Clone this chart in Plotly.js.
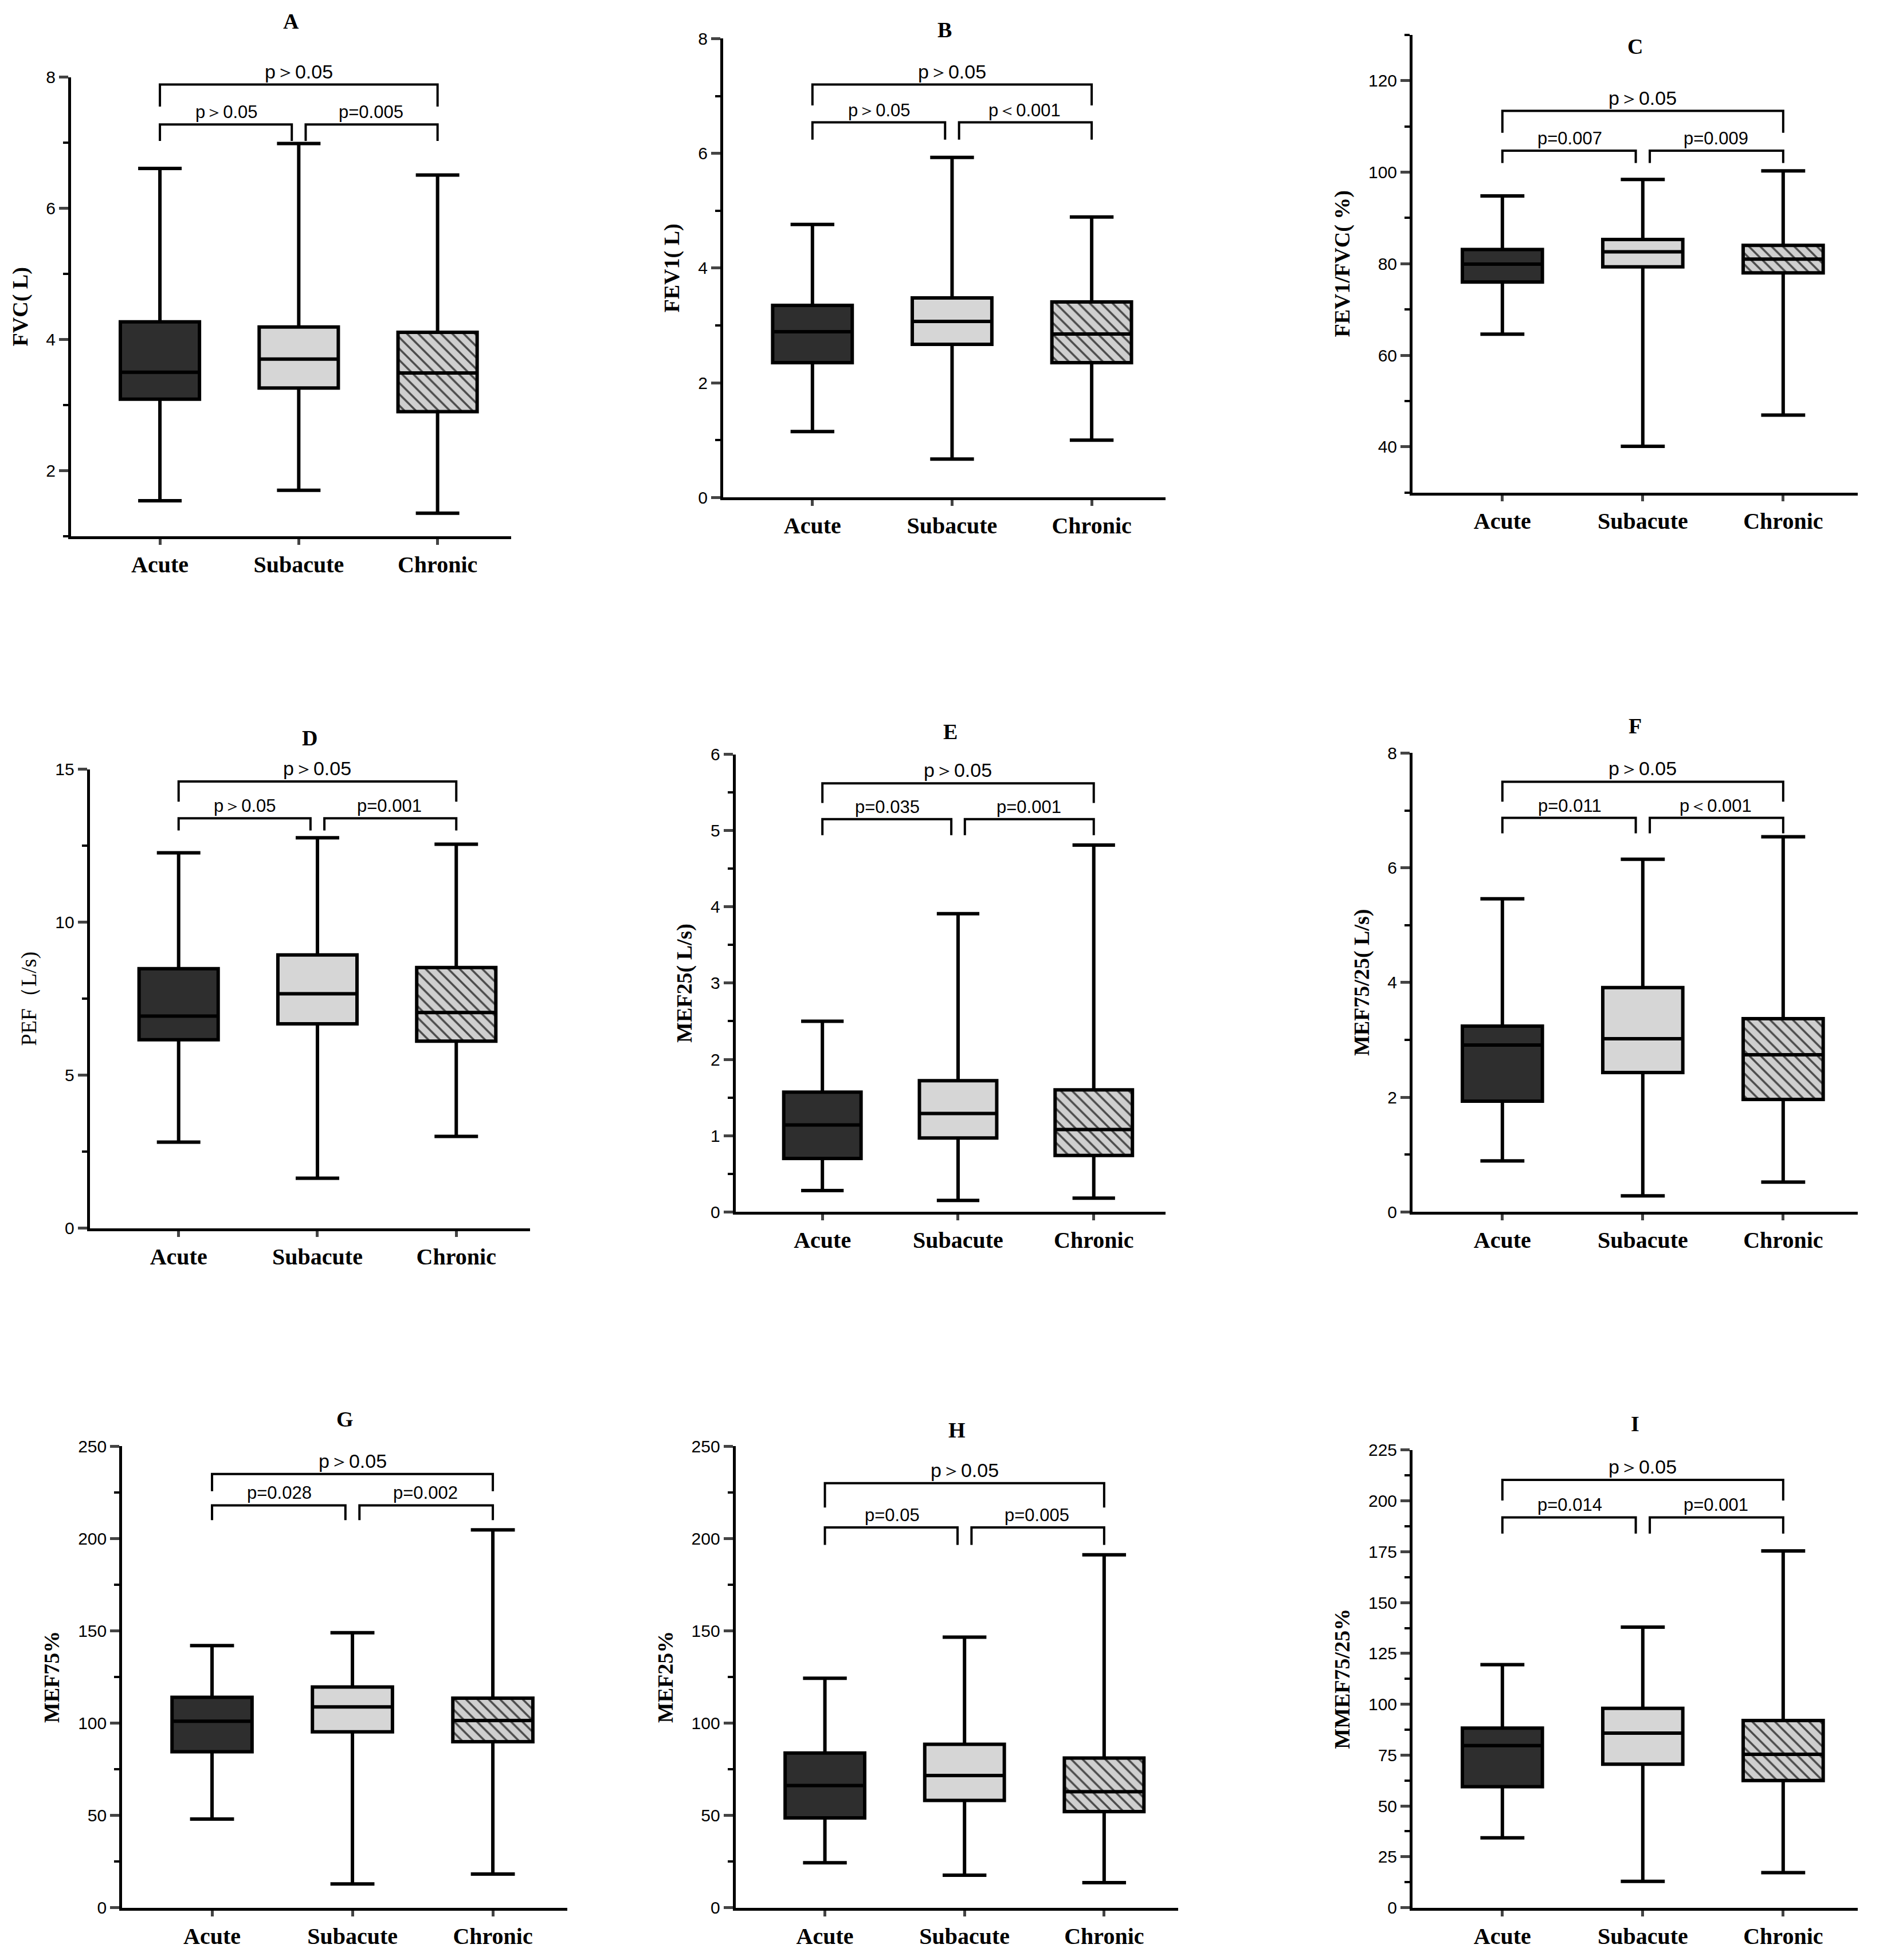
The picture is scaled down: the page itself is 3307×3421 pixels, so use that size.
<!DOCTYPE html>
<html>
<head>
<meta charset="utf-8">
<script src="https://cdn.plot.ly/plotly-3.0.1.min.js"></script>
<style>body{margin:0;background:#fff}</style>
</head>
<body>
<div id="chart" style="width:3307px;height:3421px"></div>
<script>
// groups
var groups = ['Acute', 'Subacute', 'Chronic'];
// each row: [min, q1, median, q3, max]
var fvc      = [[1.54, 3.09, 3.50, 4.27, 6.61], [1.70, 3.26, 3.70, 4.19, 6.99], [1.35, 2.90, 3.49, 4.11, 6.51]];
var fev1     = [[1.15, 2.35, 2.89, 3.35, 4.76], [0.67, 2.67, 3.07, 3.48, 5.93], [1.00, 2.35, 2.85, 3.41, 4.89]];
var ratio    = [[64.6, 76.0, 79.9, 83.1, 94.8], [40.1, 79.3, 82.6, 85.3, 98.4], [46.9, 78.0, 81.0, 84.0, 100.3]];
var pef      = [[2.81, 6.16, 6.93, 8.48, 12.27], [1.63, 6.68, 7.66, 8.93, 12.76], [3.00, 6.11, 7.05, 8.52, 12.55]];
var mef25    = [[0.28, 0.70, 1.14, 1.57, 2.50], [0.15, 0.97, 1.29, 1.72, 3.91], [0.18, 0.74, 1.08, 1.60, 4.81]];
var mef7525  = [[0.89, 1.93, 2.91, 3.24, 5.46], [0.28, 2.43, 3.02, 3.91, 6.15], [0.52, 1.96, 2.74, 3.37, 6.54]];
var mef75p   = [[48, 84.5, 101, 114, 142], [12.8, 95.3, 108.8, 119.6, 149], [18.2, 89.9, 101.4, 113.5, 204.7]];
var mef25p   = [[24.3, 48.6, 66.2, 83.8, 124.3], [17.6, 58.1, 71.6, 88.5, 146.6], [13.5, 52.0, 62.8, 81.1, 191.2]];
var mmef     = [[34.3, 59.5, 79.7, 88.3, 119.5], [12.9, 70.5, 85.8, 98.0, 137.9], [17.2, 62.5, 75.4, 92.0, 175.4]];
// p labels: [top (Acute-Chronic), left (Acute-Subacute), right (Subacute-Chronic)]
var pA = ['p＞0.05', 'p＞0.05', 'p=0.005'];
var pB = ['p＞0.05', 'p＞0.05', 'p＜0.001'];
var pC = ['p＞0.05', 'p=0.007', 'p=0.009'];
var pD = ['p＞0.05', 'p＞0.05', 'p=0.001'];
var pE = ['p＞0.05', 'p=0.035', 'p=0.001'];
var pF = ['p＞0.05', 'p=0.011', 'p＜0.001'];
var pG = ['p＞0.05', 'p=0.028', 'p=0.002'];
var pH = ['p＞0.05', 'p=0.05', 'p=0.005'];
var pI = ['p＞0.05', 'p=0.014', 'p=0.001'];
// bracket heights: [top bar, lower bar, lower bar ends]
var bA = [7.89, 7.28, 7.03], bB = [7.2, 6.54, 6.24], bC = [113.4, 104.7, 102];
var bD = [14.6, 13.4, 13.0], bE = [5.62, 5.15, 4.94], bF = [7.5, 6.87, 6.6];
var bG = [235, 218, 210], bH = [230, 206, 196.6], bI = [210.3, 191.9, 183.9];

var W = 1520, H = 1572; // reference layout units
var panels = [
  {t:'A', d:fvc,     p:pA, b:bA, yt:'FVC( L)',       r:[1,8],     dt:2,  box:[57,410,62,430],  ty:17},
  {t:'B', d:fev1,    p:pB, b:bB, yt:'FEV1( L)',      r:[0,8],     dt:2,  box:[580,935,31,399], ty:24},
  {t:'C', d:ratio,   p:pC, b:bC, yt:'FEV1/FVC( %)',  r:[30,130],  dt:20, box:[1133,1490,28,395], ty:37},
  {t:'D', d:pef,     p:pD, b:bD, yt:'PEF（L/s)',     r:[0,15],    dt:5,  box:[72,425,617,985], ty:592, nb:true},
  {t:'E', d:mef25,   p:pE, b:bE, yt:'MEF25( L/s)',   r:[0,6],     dt:1,  box:[590,935,605,972], ty:587},
  {t:'F', d:mef7525, p:pF, b:bF, yt:'MEF75/25( L/s)',r:[0,8],     dt:2,  box:[1133,1490,604,972], ty:582},
  {t:'G', d:mef75p,  p:pG, b:bG, yt:'MEF75%',        r:[0,250],   dt:50, box:[98,455,1160,1530], ty:1138},
  {t:'H', d:mef25p,  p:pH, b:bH, yt:'MEF25%',        r:[0,250],   dt:50, box:[590,945,1160,1530], ty:1147},
  {t:'I', d:mmef,    p:pI, b:bI, yt:'MMEF75/25%',    r:[0,225],   dt:25, box:[1133,1490,1163,1530], ty:1142}
];

var fills = ['#2e2e2e', '#d6d6d6', 'rgba(0,0,0,0)'];
var traces = [], annotations = [], layout = {
  width: 3307, height: 3421, margin: {l:0, r:0, t:0, b:0},
  paper_bgcolor: '#fff', plot_bgcolor: '#fff', showlegend: false,
  boxmode: 'overlay', barmode: 'overlay', annotations: annotations
};

panels.forEach(function (P, i) {
  var n = i + 1, xa = 'x' + (n > 1 ? n : ''), ya = 'y' + (n > 1 ? n : '');
  var xk = 'xaxis' + (n > 1 ? n : ''), yk = 'yaxis' + (n > 1 ? n : '');
  var bx = P.box;
  layout[xk] = {
    domain: [bx[0] / W, bx[1] / W], anchor: ya, range: [-0.64, 2.53],
    tickvals: [0, 1, 2], ticktext: groups, showline: true, linewidth: 5, linecolor: '#000',
    ticks: 'outside', ticklen: 10, tickwidth: 5, showgrid: false, zeroline: false,
    tickfont: {family: 'Liberation Serif', size: 40, color: '#000', weight: 'bold'}
  };
  layout[yk] = {
    domain: [1 - bx[3] / H, 1 - bx[2] / H], anchor: xa, range: P.r, dtick: P.dt,
    showline: true, linewidth: 5, linecolor: '#000', ticks: 'outside', ticklen: 16, tickwidth: 5,
    minor: {ticks: 'outside', ticklen: 9, tickwidth: 4, dtick: P.dt / 2, tickcolor: '#000'},
    showgrid: false, zeroline: false,
    tickfont: {family: 'Liberation Sans', size: 30, color: '#000'},
    title: {text: P.yt, standoff: 22,
      font: {family: 'Liberation Serif', size: 38, color: '#000', weight: P.nb ? 'normal' : 'bold'}}
  };
  // patterned fill for Chronic
  var c = P.d[2];
  traces.push({type: 'bar', x: [2], y: [c[3] - c[1]], base: [c[1]], width: 0.57,
    xaxis: xa, yaxis: ya, hoverinfo: 'skip',
    marker: {color: '#cfcfcf', line: {width: 0},
      pattern: {shape: '\\', fgcolor: '#4a4a4a', bgcolor: '#cfcfcf', size: 14, solidity: 0.25}}});
  P.d.forEach(function (v, g) {
    traces.push({type: 'box', x: [g], lowerfence: [v[0]], q1: [v[1]], median: [v[2]],
      q3: [v[3]], upperfence: [v[4]], width: 0.57, whiskerwidth: 0.55,
      fillcolor: fills[g], line: {color: '#000', width: 6}, xaxis: xa, yaxis: ya,
      boxpoints: false, name: groups[g]});
  });
  // brackets
  var b = P.b;
  var br = [
    {x: [0, 0, 2, 2], y: [b[1] + (b[0] - b[1]) * 0.45, b[0], b[0], b[1] + (b[0] - b[1]) * 0.45]},
    {x: [0, 0, 0.95, 0.95], y: [b[2], b[1], b[1], b[2]]},
    {x: [1.05, 1.05, 2, 2], y: [b[2], b[1], b[1], b[2]]}
  ];
  br.forEach(function (s, k) {
    traces.push({type: 'scatter', mode: 'lines', x: s.x, y: s.y, xaxis: xa, yaxis: ya,
      cliponaxis: false, hoverinfo: 'skip', line: {color: '#000', width: 4}});
    annotations.push({xref: xa, yref: ya, x: k === 0 ? 1 : (k === 1 ? 0.48 : 1.52), y: k === 0 ? b[0] : b[1],
      yanchor: 'bottom', yshift: 2, showarrow: false, text: P.p[k],
      font: {family: 'Liberation Sans', size: k === 0 ? 34 : 31, color: '#000'}});
  });
  annotations.push({xref: 'paper', yref: 'paper', x: (bx[0] + bx[1]) / 2 / W + 0.02 * 0, y: 1 - P.ty / H,
    xanchor: 'center', yanchor: 'middle', showarrow: false, text: '<b>' + P.t + '</b>',
    font: {family: 'Liberation Serif', size: 38, color: '#000'}});
});

Plotly.newPlot('chart', traces, layout, {staticPlot: true});
</script>
</body>
</html>
